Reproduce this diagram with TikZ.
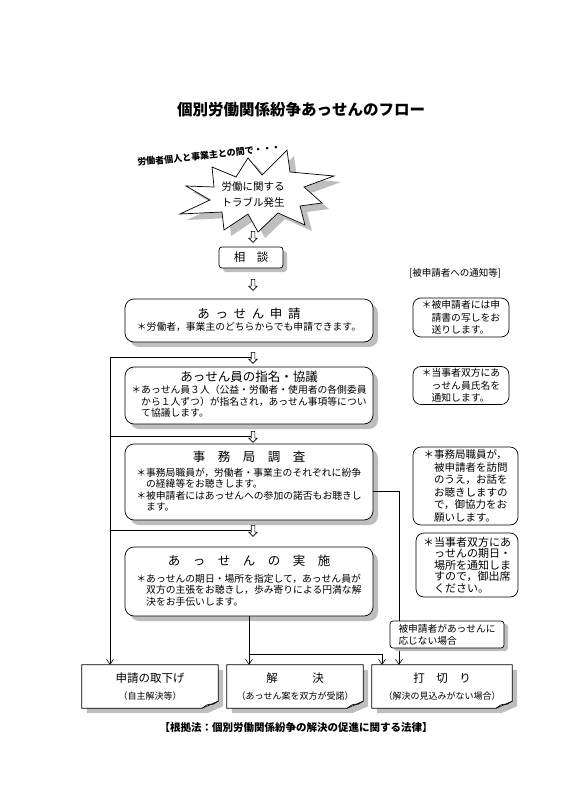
\documentclass[tikz,border=0pt]{standalone}
\usepackage{fontspec}
\setmainfont{Noto Sans CJK JP}
\usepackage{xcolor}
\usetikzlibrary{arrows.meta,positioning,shapes.arrows,shadows,backgrounds}
\definecolor{shadowgray}{RGB}{190,190,190}
\newcommand\titlef{\fontsize{12.5}{15}\selectfont}
\newcommand\jsp{\hspace{.45em}}
\newcommand\boxbody[1]{{\fontsize{9.8}{10.5}\selectfont\begin{tabular}{@{}l@{}}#1\end{tabular}}}

\begin{document}
\begin{tikzpicture}[x=1pt, y=-1pt,
    mainbox/.style={draw, line width=0.7pt, rounded corners=9pt, fill=white, minimum width=248pt, align=center, inner sep=2pt, drop shadow={shadow xshift=5pt, shadow yshift=-5pt, fill=shadowgray, opacity=1}},
    notebox/.style={draw, line width=0.7pt, rounded corners=8pt, fill=white, align=left, inner sep=2pt, font=\fontsize{9.8}{12.5}\selectfont},
    endbox/.style={minimum width=136pt, minimum height=43pt, align=center, inner sep=0pt, font=\fontsize{11.5}{14}\selectfont},
    downarr/.style={draw, line width=0.6pt, fill=white, single arrow, shape border rotate=270, minimum height=11pt, single arrow head extend=2.5pt, inner sep=1.5pt},
    arr/.style={-{Straight Barb[length=5pt,width=7pt]}, line width=0.6pt}
]
\useasboundingbox (0,0) rectangle (566,800);

\node[font=\fontsize{15.5}{18}\selectfont\bfseries] (title) at (301,110) {個別労働関係紛争あっせんのフロー};
\node[font=\fontsize{9}{11}\selectfont\bfseries, rotate=6] (between) at (209,155) {労働者個人と事業主との間で・・・};

% trouble burst
\filldraw[fill=white, line width=0.7pt, drop shadow={shadow xshift=7pt, shadow yshift=-6pt, fill=shadowgray, opacity=1}]
  (212,167) -- (236,177) -- (248,158) -- (262,175) -- (287,150) -- (290,172) -- (334,176) -- (304,187)
  -- (322,203) -- (300,206) -- (305,225) -- (278,213) -- (258,232) -- (248,214) -- (224,230) -- (222,212)
  -- (180,214) -- (210,200) -- (186,186) -- (214,187) -- cycle;
\node[font=\fontsize{10.5}{16}\selectfont, align=center] (trouble) at (253,195) {労働に関する\\トラブル発生};

\node[downarr] (arrA) at (253,236) {};
\node[draw, line width=0.7pt, rounded corners=3pt, fill=white, minimum width=64pt, minimum height=21pt, font=\fontsize{11.5}{14}\selectfont, drop shadow={shadow xshift=4pt, shadow yshift=-4pt, fill=shadowgray, opacity=1}] (consult) at (251,257.5) {相　談};
\node[downarr] (arrB) at (253,284) {};
\node[font=\fontsize{9.5}{12}\selectfont] (noticehead) at (455,273) {[被申請者への通知等]};

% main flow
\node[mainbox, minimum height=43pt] (apply) at (249,320.5)
  {{\titlef あ\jsp っ\jsp せ\jsp ん\jsp 申\jsp 請}\\[0pt]\boxbody{＊労働者，事業主のどちらからでも申請できます。}};
\node[downarr] (arrC) at (253,357) {};
\node[mainbox, minimum height=57pt] (nominate) at (249,395.5)
  {{\titlef あっせん員の指名・協議}\\[1pt]\boxbody{＊あっせん員３人（公益・労働者・使用者の各側委員\\　から１人ずつ）が指名され，あっせん事項等につい\\　て協議します。}};
\node[downarr] (arrD) at (253,436) {};
\node[mainbox, minimum height=76pt] (survey) at (249,482)
  {{\titlef 事　務　局　調　査}\\[5pt]\boxbody{＊事務局職員が，労働者・事業主のそれぞれに紛争\\　の経緯等をお聴きします。\\＊被申請者にはあっせんへの参加の諾否もお聴きし\\　ます。}};
\node[downarr] (arrE) at (253,530) {};
\node[mainbox, minimum height=69pt] (conduct) at (249,581.5)
  {{\titlef あ　っ　せ　ん　の　実　施}\\[7pt]\boxbody{＊あっせんの期日・場所を指定して，あっせん員が\\　双方の主張をお聴きし，歩み寄りによる円満な解\\　決をお手伝いします。}};

% notices
\node[notebox, minimum width=96pt, minimum height=39pt] (noteA) at (461,317.5) {＊被申請者には申\\　請書の写しをお\\　送りします。};
\node[notebox, minimum width=96pt, minimum height=37pt] (noteB) at (461,385.5) {＊当事者双方にあ\\　っせん員氏名を\\　通知します。};
\node[notebox, minimum width=105pt, minimum height=78pt, font=\fontsize{10.5}{12.5}\selectfont] (noteC) at (465.5,486) {＊事務局職員が，\\　被申請者を訪問\\　のうえ，お話を\\　お聴きしますの\\　で，御協力をお\\　願いします。};
\node[notebox, minimum width=102pt, minimum height=64pt, font=\fontsize{11}{11.5}\selectfont] (noteD) at (467,565) {＊当事者双方にあ\\　っせんの期日・\\　場所を通知しま\\　すので，御出席\\　ください。};

% results
\node[endbox] (withdraw) at (150,686.5) {申請の取下げ\\[3pt]{\fontsize{9}{11}\selectfont （自主解決等）}};
\node[endbox] (settle) at (295,686.5) {解　　　決\\[3pt]{\fontsize{9}{11}\selectfont （あっせん案を双方が受諾）}};
\node[endbox, minimum width=140pt] (cutoff) at (442,686.5) {打　切　り\\[3pt]{\fontsize{9}{11}\selectfont （解決の見込みがない場合）}};
\begin{scope}[on background layer]
\foreach \nm in {withdraw,settle,cutoff}{
  \fill[shadowgray] ([shift={(5,5)}]\nm.north west) -- ([shift={(5,5)}]\nm.north east) -- ([shift={(5,-2)}]\nm.south east)
    -- ([shift={(-11,5)}]\nm.south east) -- ([shift={(5,5)}]\nm.south west) -- cycle;
  \filldraw[fill=white, line width=0.7pt] (\nm.north west) -- (\nm.north east) -- ([yshift=7pt]\nm.south east)
    -- ([xshift=-16pt]\nm.south east) -- (\nm.south west) -- cycle;
  \draw[line width=0.6pt] ([xshift=-16pt]\nm.south east) .. controls ([shift={(-11,-4)}]\nm.south east) .. ([shift={(-5,-4)}]\nm.south east) -- ([yshift=7pt]\nm.south east);
}
\end{scope}

% connectors
\coordinate (bus) at (110,357);
\draw[line width=0.6pt] (bus) -- (arrC.west);
\draw[line width=0.6pt] (arrD.west -| bus) -- (arrD.west);
\draw[line width=0.6pt] (arrE.west -| bus) -- (arrE.west);
\draw[arr] (bus) -- (bus |- withdraw.north);
\coordinate (fork) at (382,654);
\draw[arr] (conduct.south) -- (conduct.south |- settle.north);
\draw[line width=0.6pt] (conduct.south |- fork) -- (fork);
\draw[arr] (fork) -- (fork |- cutoff.north);
\coordinate (refuse) at (399,491);
\draw[arr] (refuse -| survey.east) -- (refuse) -- (refuse |- cutoff.north);
\node[draw, line width=0.7pt, rounded corners=3pt, fill=white, minimum width=114pt, minimum height=27pt, align=left, inner sep=2pt, font=\fontsize{9.7}{12}\selectfont, drop shadow={shadow xshift=4pt, shadow yshift=-3pt, fill=shadowgray, opacity=1}] (refuselabel) at (447,634.5) {被申請者があっせんに\\応じない場合};

\node[font=\fontsize{10.5}{12}\selectfont\bfseries] (law) at (296,728) {【根拠法：個別労働関係紛争の解決の促進に関する法律】};
\end{tikzpicture}
\end{document}
